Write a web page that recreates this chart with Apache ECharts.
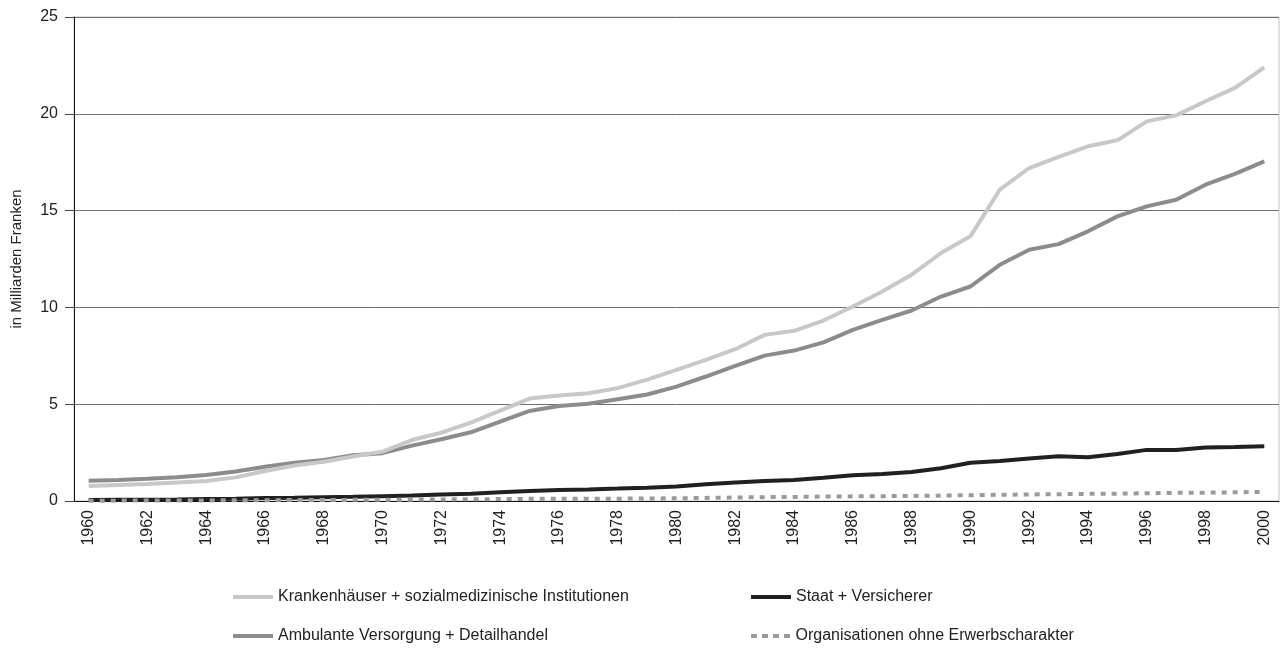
<!DOCTYPE html>
<html>
<head>
<meta charset="utf-8">
<script src="https://cdn.jsdelivr.net/npm/echarts@6/dist/echarts.min.js"></script>
<style>
  html, body { margin: 0; padding: 0; background: #fff; }
  #chart { width: 1286px; height: 648px; }
</style>
</head>
<body>
<div id="chart"></div>
<script>
var years = [];
for (var y = 1960; y <= 2000; y++) { years.push(String(y)); }

// Krankenhäuser + sozialmedizinische Institutionen
var spitaeler = [0.77, 0.83, 0.88, 0.95, 1.03, 1.22, 1.55, 1.83, 2.03, 2.3, 2.55,
    3.15, 3.53, 4.05, 4.67, 5.29, 5.45, 5.57, 5.83, 6.27, 6.77,
    7.29, 7.84, 8.58, 8.79, 9.32, 10.05, 10.82, 11.69, 12.81, 13.67,
    16.08, 17.2, 17.77, 18.32, 18.63, 19.61, 19.92, 20.65, 21.34, 22.4];

// Ambulante Versorgung + Detailhandel
var ambulant = [1.05, 1.09, 1.15, 1.23, 1.34, 1.52, 1.77, 1.98, 2.12, 2.36, 2.47,
    2.86, 3.19, 3.55, 4.1, 4.65, 4.91, 5.02, 5.26, 5.5, 5.91,
    6.43, 6.98, 7.51, 7.77, 8.19, 8.84, 9.36, 9.84, 10.56, 11.08,
    12.2, 12.98, 13.27, 13.93, 14.7, 15.22, 15.56, 16.34, 16.9, 17.54];

// Staat + Versicherer
var staat = [0.05, 0.06, 0.07, 0.08, 0.1, 0.12, 0.15, 0.17, 0.2, 0.22, 0.25,
    0.28, 0.33, 0.38, 0.45, 0.52, 0.57, 0.6, 0.64, 0.69, 0.75,
    0.86, 0.95, 1.03, 1.09, 1.2, 1.33, 1.4, 1.5, 1.69, 1.98,
    2.07, 2.19, 2.31, 2.26, 2.43, 2.64, 2.64, 2.76, 2.79, 2.83];

// Organisationen ohne Erwerbscharakter
var organisationen = [0.01, 0.02, 0.02, 0.03, 0.03, 0.04, 0.04, 0.05, 0.05, 0.06, 0.06,
    0.07, 0.08, 0.09, 0.1, 0.11, 0.11, 0.12, 0.12, 0.13, 0.14,
    0.16, 0.18, 0.2, 0.21, 0.23, 0.24, 0.25, 0.26, 0.28, 0.3,
    0.32, 0.34, 0.35, 0.37, 0.38, 0.4, 0.42, 0.43, 0.45, 0.47];

var names = ['Krankenhäuser + sozialmedizinische Institutionen', 'Ambulante Versorgung + Detailhandel',
    'Staat + Versicherer', 'Organisationen ohne Erwerbscharakter'];
var colors = ['#c8c8c8', '#8c8c8c', '#231f20', '#9a9a9a'];

var font = '"Liberation Sans", Arial, sans-serif';
var dotIcon = 'path://M0,0h6v4h-6z M11,0h6v4h-6z M22,0h6v4h-6z M33,0h6v4h-6z';

function legendItem(name, left, top, icon){
    return {
        left: left, top: top, itemWidth: 40, itemHeight: 4,
        icon: icon, itemStyle: { borderWidth: 0 },
        textStyle: { fontSize: 16, color: '#222', fontFamily: font },
        data: [name]
    };
}

var chart = echarts.init(document.getElementById('chart'));

var option = {
    animation: false,
    backgroundColor: '#fff',
    textStyle: { fontFamily: font },
    grid: {
        left: 74, right: 7, top: 17, bottom: 147,
        outerBoundsMode: 'none',
        show: true, borderColor: '#c4c4c4', borderWidth: 1
    },
    legend: [
        legendItem(names[0], 228, 584, 'rect'),
        legendItem(names[1], 228, 623, 'rect'),
        legendItem(names[2], 746, 584, 'rect'),
        legendItem(names[3], 746, 623, dotIcon)
    ],
    xAxis: {
        type: 'category',
        data: years,
        boundaryGap: true,
        axisLine: { lineStyle: { color: '#111', width: 1 } },
        axisTick: { interval: 0, length: 8, lineStyle: { color: '#111' } },
        axisLabel: {
            interval: 1, rotate: 90, margin: 9,
            fontSize: 16, color: '#222', fontFamily: font
        },
        splitLine: { show: false }
    },
    yAxis: {
        type: 'value',
        min: 0, max: 25, interval: 5,
        name: 'in Milliarden Franken',
        nameLocation: 'middle', nameGap: 50, nameRotate: 90,
        nameTextStyle: { fontSize: 15, color: '#222', fontFamily: font },
        axisLine: { show: true, lineStyle: { color: '#111', width: 1 } },
        axisTick: { show: true, length: 9, lineStyle: { color: '#444' } },
        axisLabel: { margin: 16, fontSize: 16, color: '#222', fontFamily: font },
        splitLine: { lineStyle: { color: '#6e6e6e', width: 1 } }
    },
    series: [
        {
            name: names[0], type: 'line', data: spitaeler, symbol: 'none',
            color: colors[0], lineStyle: { color: colors[0], width: 4 }, z: 3
        },
        {
            name: names[1], type: 'line', data: ambulant, symbol: 'none',
            color: colors[1], lineStyle: { color: colors[1], width: 4 }, z: 2
        },
        {
            name: names[2], type: 'line', data: staat, symbol: 'none',
            color: colors[2], lineStyle: { color: colors[2], width: 4 }, z: 4
        },
        {
            name: names[3], type: 'line', data: organisationen, symbol: 'none',
            color: colors[3],
            lineStyle: { color: colors[3], width: 4, type: [5, 6], cap: 'butt' }, z: 5
        }
    ]
};

chart.setOption(option);
</script>
</body>
</html>
